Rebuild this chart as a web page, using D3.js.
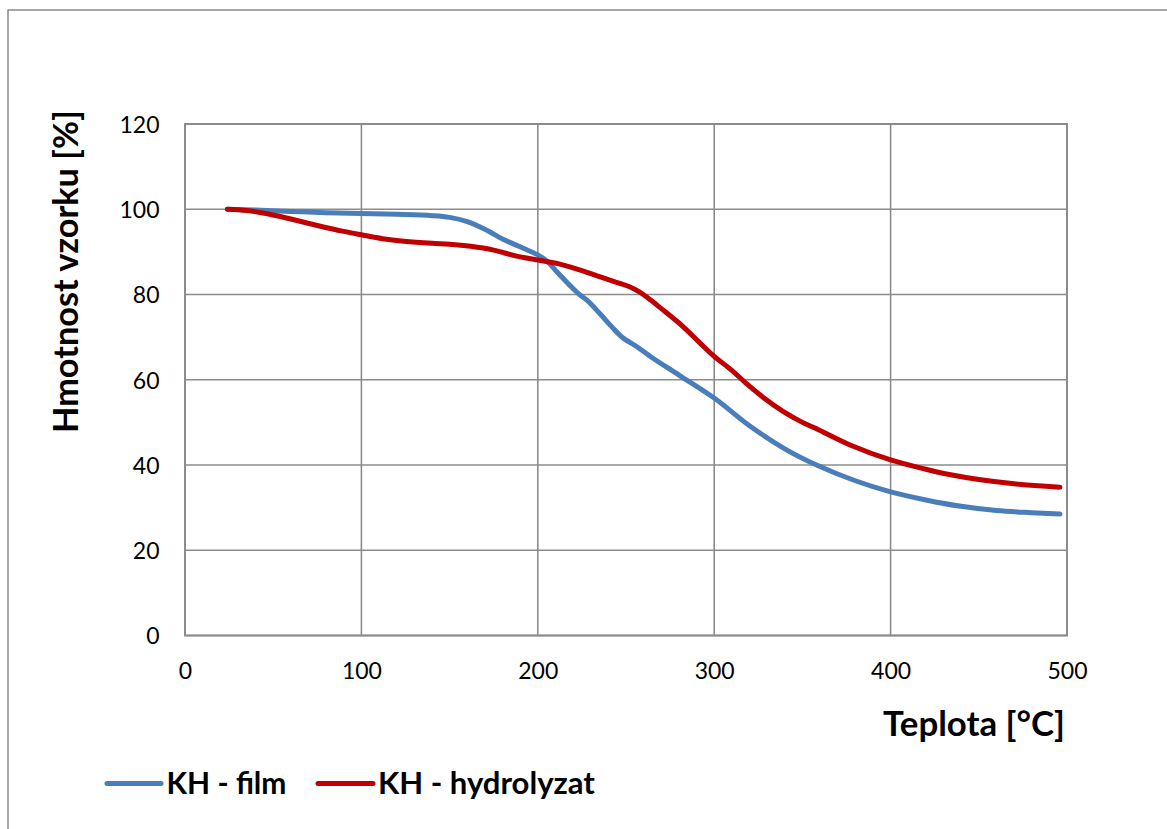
<!DOCTYPE html>
<html>
<head>
<meta charset="utf-8">
<script src="https://cdn.jsdelivr.net/npm/d3@7"></script>
<style>
  html, body { margin: 0; padding: 0; background: #fff; }
  svg { display: block; }
  text { font-family: Lato, "Open Sans", sans-serif; fill: #000; }
</style>
</head>
<body>
<svg id="chart" width="1167" height="829"></svg>
<script>
// Thermogravimetric curves: sample mass [%] vs temperature [°C]
const filmTemp = [24, 40, 60, 80, 100, 120, 140, 150, 160, 170, 180, 190, 200, 205, 212, 218, 223, 228, 235, 242, 248, 256, 264, 280, 300, 320, 340, 358, 380, 400, 420, 440, 460, 480, 496];
const filmMass = [100, 99.8, 99.5, 99.2, 99.0, 98.8, 98.5, 98.1, 97.1, 95.3, 93.0, 91.2, 89.3, 87.9, 84.8, 82.2, 80.2, 78.6, 75.6, 72.4, 69.9, 67.8, 65.4, 61.1, 55.7, 49.2, 43.8, 40.0, 36.3, 33.7, 31.8, 30.3, 29.3, 28.8, 28.5];

const hydroTemp = [24, 35, 46, 60, 75, 90, 100, 112, 124, 140, 150, 162, 175, 188, 200, 212, 225, 235, 245, 252, 258, 264, 270, 282, 292, 300, 310, 318, 328, 339, 350, 358, 377, 400, 420, 434, 450, 470, 496];
const hydroMass = [100, 99.7, 99.0, 97.7, 96.2, 94.8, 94.0, 93.1, 92.5, 92.0, 91.8, 91.3, 90.4, 89.0, 88.1, 87.2, 85.6, 84.2, 82.8, 81.8, 80.5, 78.7, 76.7, 72.6, 68.6, 65.5, 62.2, 59.2, 55.8, 52.6, 50.0, 48.5, 44.7, 41.2, 39.0, 37.7, 36.6, 35.6, 34.8];

const xTicks = [0, 100, 200, 300, 400, 500];
const yTicks = [0, 20, 40, 60, 80, 100, 120];

const seriesNames = ["KH - film", "KH - hydrolyzat"];
const seriesColors = ["#4a7ebb", "#c00000"];

const xTitle = "Teplota [°C]";
const yTitle = "Hmotnost vzorku [%]";

const series = [
  { name: seriesNames[0], color: seriesColors[0], pts: filmTemp.map((t, i) => [t, filmMass[i]]) },
  { name: seriesNames[1], color: seriesColors[1], pts: hydroTemp.map((t, i) => [t, hydroMass[i]]) }
];

const svg = d3.select("#chart");
const plot = { left: 185, right: 1067, top: 124, bottom: 635.5 };
const gridColor = "#8c8c8c";

const x = d3.scaleLinear().domain([0, 500]).range([plot.left, plot.right]);
const y = d3.scaleLinear().domain([0, 120]).range([plot.bottom, plot.top]);

// outer chart frame (extends past the canvas on the right and bottom)
svg.append("rect")
  .attr("x", 8).attr("y", 10)
  .attr("width", 1200).attr("height", 900)
  .attr("fill", "none").attr("stroke", "#8a8a8a").attr("stroke-width", 1.5);

// fit a text element to a target width by scaling its font size
function fit(sel, width) {
  const fs = parseFloat(sel.attr("font-size"));
  const w = sel.node().getComputedTextLength();
  sel.attr("font-size", fs * width / w);
}

// gridlines
const grid = svg.append("g");
grid.selectAll("line.h").data(yTicks).join("line")
  .attr("x1", plot.left).attr("x2", plot.right)
  .attr("y1", d => y(d)).attr("y2", d => y(d))
  .attr("stroke", gridColor).attr("stroke-width", 1.6);
grid.selectAll("line.v").data(xTicks).join("line")
  .attr("y1", plot.top).attr("y2", plot.bottom)
  .attr("x1", d => x(d)).attr("x2", d => x(d))
  .attr("stroke", gridColor).attr("stroke-width", 1.6);

// axes (labels only, lines come from the grid)
const xAxis = svg.append("g")
  .attr("transform", `translate(0,${plot.bottom})`)
  .call(d3.axisBottom(x).tickValues(xTicks).tickSize(0).tickPadding(0).tickFormat(d3.format("d")));
xAxis.select(".domain").remove();
xAxis.selectAll("text")
  .attr("y", 0).attr("dy", null)
  .attr("transform", "translate(0,43)")
  .attr("font-size", 23)
  .attr("font-family", "Lato, sans-serif");

const yAxis = svg.append("g")
  .attr("transform", `translate(159.5,0)`)
  .call(d3.axisLeft(y).tickValues(yTicks).tickSize(0).tickPadding(0).tickFormat(d3.format("d")));
yAxis.select(".domain").remove();
yAxis.selectAll("text")
  .attr("x", 0).attr("dy", "0.36em")
  .attr("font-size", 23)
  .attr("font-family", "Lato, sans-serif");

// plot-area frame
svg.append("rect")
  .attr("x", plot.left).attr("y", plot.top)
  .attr("width", plot.right - plot.left).attr("height", plot.bottom - plot.top)
  .attr("fill", "none").attr("stroke", gridColor).attr("stroke-width", 2);

// data curves
const line = d3.line()
  .x(d => x(d[0])).y(d => y(d[1]))
  .curve(d3.curveCatmullRom.alpha(0.5));

svg.append("g").selectAll("path").data(series).join("path")
  .attr("d", d => line(d.pts))
  .attr("fill", "none")
  .attr("stroke", d => d.color)
  .attr("stroke-width", 5)
  .attr("stroke-linecap", "round")
  .attr("stroke-linejoin", "round");

// axis titles
const xt = svg.append("text")
  .attr("x", 1065).attr("y", 736)
  .attr("text-anchor", "end")
  .attr("font-weight", "bold")
  .attr("font-size", 30)
  .text(xTitle);
fit(xt, 182);

const yt = svg.append("text")
  .attr("transform", "translate(78,433) rotate(-90)")
  .attr("text-anchor", "start")
  .attr("font-weight", "bold")
  .attr("font-size", 30)
  .text(yTitle);
fit(yt, 323);

// legend
const legend = svg.append("g");
const legendItems = [
  { s: series[0], x1: 107, x2: 161, tx: 166.5, tw: 120 },
  { s: series[1], x1: 318, x2: 373, tx: 378, tw: 217 }
];
legendItems.forEach(it => {
  legend.append("line")
    .attr("x1", it.x1).attr("x2", it.x2)
    .attr("y1", 783.5).attr("y2", 783.5)
    .attr("stroke", it.s.color).attr("stroke-width", 5)
    .attr("stroke-linecap", "round");
  const t = legend.append("text")
    .attr("x", it.tx).attr("y", 794)
    .attr("font-weight", "bold")
    .attr("font-size", 28)
    .text(it.s.name);
  fit(t, it.tw);
});
</script>
</body>
</html>
